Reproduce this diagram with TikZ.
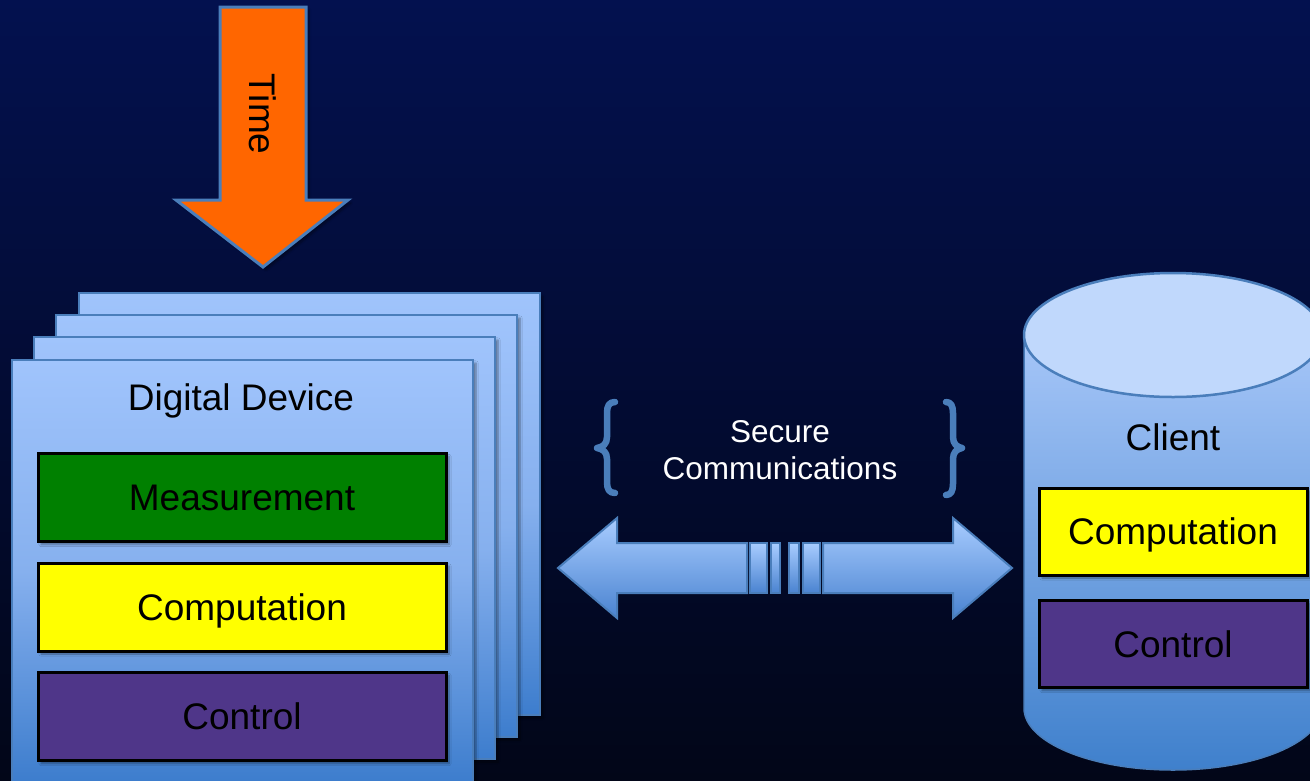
\documentclass[tikz,border=0pt]{standalone}
\usepackage{fontspec}
\setmainfont{Liberation Sans}
\usetikzlibrary{shadows.blur}

\definecolor{bgtop}{HTML}{03114F}
\definecolor{bgbot}{HTML}{020618}
\definecolor{cardtop}{HTML}{A0C4FC}
\definecolor{cardmid}{HTML}{86B0EE}
\definecolor{cardbot}{HTML}{3D7DCD}
\definecolor{edgeblue}{HTML}{4A7EBB}
\definecolor{measgreen}{HTML}{008000}
\definecolor{compyellow}{HTML}{FFFF00}
\definecolor{ctrlpurple}{HTML}{4F3689}
\definecolor{timeorange}{HTML}{FF6600}
\definecolor{cyltop}{HTML}{C0D8FC}
\definecolor{cylbodytop}{HTML}{A6C6F8}
\definecolor{cylbodybot}{HTML}{3F80CC}
\definecolor{arrtop}{HTML}{A8CCFF}
\definecolor{arrbot}{HTML}{4A83D0}

\begin{document}
\begin{tikzpicture}[x=1pt,y=-1pt,
  softshadow/.style={blur shadow={shadow xshift=3pt, shadow yshift=-3pt, shadow opacity=40, shadow blur steps=6}},
  card/.style={draw=edgeblue, line width=2pt, top color=cardtop, bottom color=cardbot, middle color=cardmid,
    minimum width=461pt, minimum height=422pt, inner sep=0pt, anchor=north west, softshadow},
  label37/.style={font=\fontsize{37}{44}\selectfont, text height=26.5pt, text depth=0pt, inner sep=0pt},
  devlayer/.style={draw=black, line width=3pt, minimum width=408pt, minimum height=88pt, label37, softshadow},
  clilayer/.style={draw=black, line width=3pt, minimum width=268pt, minimum height=87pt, label37, softshadow},
  arrowpart/.style={draw=edgeblue, line width=2pt, top color=arrtop, bottom color=arrbot, line join=miter},
  bracket/.style={draw=edgeblue, line width=6.5pt, line cap=round, line join=round}
]
% background
\fill[top color=bgtop, bottom color=bgbot] (0,0) rectangle (1310,780);
\useasboundingbox (0,0) rectangle (1310,780);

% time arrow
\draw[draw=edgeblue, line width=3pt, fill=timeorange, line join=miter, softshadow]
  (220,7) -- (306,7) -- (306,200) -- (348,200) -- (263,267) -- (176,200) -- (220,200) -- cycle;
\node[label37, rotate=-90] (time) at (263,114) {Time};

% stacked device cards
\node[card] (card4) at (78,292) {};
\node[card] (card3) at (55,314) {};
\node[card] (card2) at (33,336) {};
\node[card] (card1) at (11,359) {};

\node[label37] (devlabel) at (241,397.5) {Digital Device};
\node[devlayer, fill=measgreen] (meas) at (242,497.5) {Measurement};
\node[devlayer, fill=compyellow] (devcomp) at (242,607) {Computation};
\node[devlayer, fill=ctrlpurple] (devctrl) at (242,716.5) {Control};

% secure channel label with curly brackets
\draw[bracket] (615,402) .. controls (609,402) and (607,406) .. (607,413) -- (607,437)
  .. controls (607,444) and (603,447) .. (597,448) .. controls (603,449) and (607,452) .. (607,459)
  -- (607,482) .. controls (607,489) and (609,493) .. (615,493);
\draw[bracket] (946,402) .. controls (951,402) and (953,406) .. (953,413) -- (953,437)
  .. controls (953,444) and (957,447) .. (962,448) .. controls (957,449) and (953,452) .. (953,459)
  -- (953,484) .. controls (953,491) and (951,495) .. (946,495);
\node[font=\fontsize{31.5}{37}\selectfont, text=white, align=center] (secure) at (780,450) {Secure\\Communications};

% two-way arrow with stripes
\draw[arrowpart] (558,568) -- (617,518) -- (617,543) -- (747,543) -- (747,593) -- (617,593) -- (617,618) -- cycle;
\draw[arrowpart] (750,543) rectangle (767,593);
\draw[arrowpart] (771,543) rectangle (780,593);
\draw[arrowpart] (789,543) rectangle (799,593);
\draw[arrowpart] (803,543) rectangle (820,593);
\draw[arrowpart] (823,543) -- (953,543) -- (953,518) -- (1012,568) -- (953,618) -- (953,593) -- (823,593) -- cycle;

% client cylinder
\coordinate (cyl) at (1173,335);
\draw[draw=edgeblue, line width=1.5pt, top color=cylbodytop, bottom color=cylbodybot]
  (1024,335) -- (1024,708) arc[start angle=180, end angle=0, x radius=149, y radius=62]
  -- (1322,335) arc[start angle=0, end angle=180, x radius=149, y radius=62] -- cycle;
\draw[draw=edgeblue, line width=2.5pt, fill=cyltop] (cyl) ellipse [x radius=149, y radius=62];

\node[label37] (client) at (1173,437.5) {Client};
\node[clilayer, fill=compyellow] (clicomp) at (1173,531.5) {Computation};
\node[clilayer, fill=ctrlpurple] (clictrl) at (1173,644) {Control};
\end{tikzpicture}
\end{document}
